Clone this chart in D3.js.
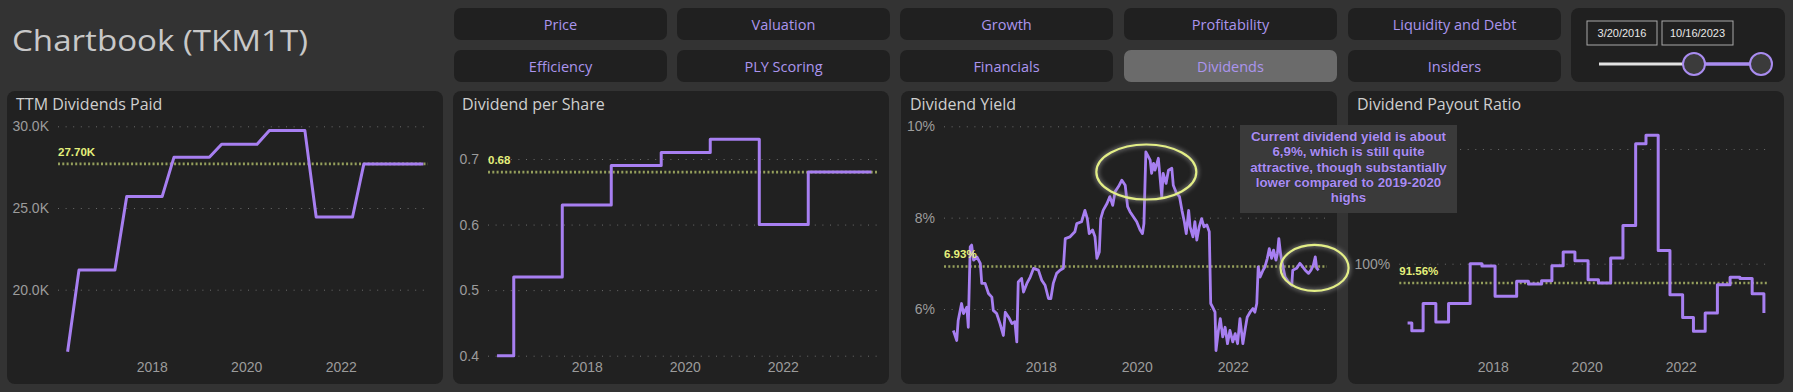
<!DOCTYPE html>
<html>
<head>
<meta charset="utf-8">
<script src="https://cdn.jsdelivr.net/npm/d3@7"></script>
<style>
  html, body { margin: 0; padding: 0; background: #333333; }
  svg { display: block; }
</style>
</head>
<body>
<svg id="chart" width="1793" height="392"></svg>
<script>
// ---------------- DATA ----------------
const pageTitle = "Chartbook (TKM1T)";
const buttonRow1 = ["Price", "Valuation", "Growth", "Profitability", "Liquidity and Debt"];
const buttonRow2 = ["Efficiency", "PLY Scoring", "Financials", "Dividends", "Insiders"];
const activeButton = "Dividends";
const dateRange = ["3/20/2016", "10/16/2023"];
const xTickYears = [2018, 2020, 2022];

const panelTitles = ["TTM Dividends Paid", "Dividend per Share", "Dividend Yield", "Dividend Payout Ratio"];

// TTM dividends paid (thousands)
const ttmYears  = [2016.22, 2016.46, 2017.22, 2017.47, 2018.22, 2018.47, 2019.22, 2019.48, 2020.23, 2020.49, 2021.24, 2021.48, 2022.25, 2022.49, 2023.75];
const ttmValues = [16.2, 21.2, 21.2, 25.7, 25.7, 28.1, 28.1, 28.9, 28.9, 29.75, 29.75, 24.45, 24.45, 27.7, 27.7];
const ttmAvg = 27.70;
const ttmTicks = [20, 25, 30];

// Dividend per share
const dpsYears  = [2016.17, 2016.51, 2017.50, 2018.50, 2019.52, 2020.52, 2021.52, 2022.52, 2023.81];
const dpsValues = [0.40, 0.52, 0.63, 0.69, 0.71, 0.73, 0.60, 0.68, 0.68];
const dpsAvg = 0.68;
const dpsTicks = [0.4, 0.5, 0.6, 0.7];

// Dividend yield (%)
const yieldYears = [2016.18,2016.25,2016.28,2016.35,2016.39,2016.46,2016.49,2016.53,2016.56,2016.60,
  2016.67,2016.74,2016.77,2016.84,2016.91,2016.98,2017.01,2017.08,2017.15,2017.22,
  2017.26,2017.33,2017.40,2017.46,2017.50,2017.53,2017.60,2017.64,2017.71,2017.78,
  2017.85,2017.95,2018.02,2018.09,2018.16,2018.21,2018.26,2018.33,2018.40,2018.47,
  2018.51,2018.61,2018.71,2018.75,2018.85,2018.92,2018.97,2019.01,2019.08,2019.13,
  2019.17,2019.22,2019.25,2019.30,2019.38,2019.44,2019.50,2019.55,2019.62,2019.69,
  2019.76,2019.81,2019.86,2019.93,2020.00,2020.07,2020.12,2020.15,2020.19,2020.28,
  2020.31,2020.35,2020.38,2020.45,2020.49,2020.52,2020.55,2020.61,2020.66,2020.73,
  2020.76,2020.83,2020.89,2020.94,2020.99,2021.03,2021.08,2021.11,2021.17,2021.21,
  2021.25,2021.30,2021.35,2021.40,2021.46,2021.51,2021.54,2021.58,2021.63,2021.65,
  2021.70,2021.74,2021.79,2021.84,2021.89,2021.94,2022.00,2022.05,2022.10,2022.15,
  2022.21,2022.26,2022.30,2022.36,2022.42,2022.46,2022.50,2022.53,2022.57,2022.63,
  2022.67,2022.72,2022.76,2022.81,2022.85,2022.90,2022.93,2022.96,2023.00,2023.04,
  2023.09,2023.16,2023.23,2023.25,2023.33,2023.40,2023.46,2023.51,2023.58,2023.63,
  2023.68,2023.72,2023.75,2023.79];
const yieldValues = [5.53,5.31,5.75,6.12,5.90,6.04,5.60,7.36,7.40,7.07,
  7.14,7.00,6.56,6.56,6.34,6.26,5.97,5.90,5.68,5.42,
  5.93,5.82,5.68,5.72,5.28,6.59,6.67,6.37,6.56,6.70,
  6.89,6.85,6.63,6.52,6.23,6.23,6.56,6.78,6.85,6.89,
  7.54,7.58,7.69,7.87,7.91,8.16,7.98,7.65,7.73,7.58,
  7.11,7.25,7.98,8.16,8.31,8.46,8.27,8.57,8.68,8.82,
  8.71,8.24,8.13,8.02,7.91,7.73,7.65,7.87,9.44,9.26,
  8.97,9.19,9.04,9.30,8.82,8.46,8.97,8.75,9.04,9.08,
  8.71,8.53,8.46,8.16,7.91,7.65,8.16,7.80,7.58,7.91,
  7.51,7.80,7.98,7.80,7.84,7.69,6.12,6.04,5.93,5.09,
  5.53,5.79,5.39,5.60,5.24,5.53,5.28,5.46,5.24,5.79,
  5.24,5.57,5.82,5.93,6.01,5.93,6.12,6.92,6.70,6.85,
  6.92,7.11,7.32,7.11,7.29,7.07,7.21,7.54,7.18,6.96,
  6.70,6.59,6.52,6.85,6.89,7.00,6.92,6.85,6.78,6.85,
  6.96,7.14,6.89,6.85];
const yieldAvg = 6.93;
const yieldTicks = [6, 8, 10];

// Dividend payout ratio (%)
const payoutYears  = [2016.19,2016.28,2016.52,2016.79,2017.06,2017.52,2017.77,2018.05,2018.51,2018.76,
  2019.04,2019.26,2019.50,2019.75,2020.03,2020.25,2020.51,2020.77,2021.04,2021.26,
  2021.52,2021.77,2022.04,2022.27,2022.52,2022.78,2023.05,2023.26,2023.52,2023.77];
const payoutValues = [74.1,70.8,82.6,74.6,82.6,100.0,99.0,85.8,92.3,91.1,
  92.6,99.1,105.1,101.3,93.0,91.6,102.5,116.6,152.3,156.0,
  105.7,86.5,76.6,70.5,78.5,90.8,94.1,93.5,86.9,78.5];
const payoutAvg = 91.56;
const payoutTicks = [100, 150];
const payoutTickLabels = ["100%", ""];   // upper label is hidden behind the annotation box

// Annotation (dividend yield)
const annotationLines = ["Current dividend yield is about", "6,9%, which is still quite",
  "attractive, though substantially", "lower compared to 2019-2020", "highs"];
const highlightYears  = [2020.20, 2023.705];
const highlightValues = [9.0, 6.9];

// ---------------- HELPERS ----------------
const parseDate = d3.utcParse("%m/%d/%Y");
function yearToDate(y) {
  const yr = Math.floor(y);
  const a = Date.UTC(yr, 0, 1), b = Date.UTC(yr + 1, 0, 1);
  return new Date(a + (y - yr) * (b - a));
}

const COL = {
  bg: "#333333", panel: "#212121", btn: "#202020", btnActive: "#6b6b6b",
  purple: "#a77ff1", btnText: "#ab95ee", grid: "#6c6c6c", tick: "#9c9c9c",
  title: "#cfcfcf", avgLine: "#959f5c", avgText: "#e5f07c", ellipse: "#e3ee86"
};
const FONT_UI = "'Segoe UI','Open Sans','Noto Sans',sans-serif";
const FONT_NUM = "'Liberation Sans',Arial,sans-serif";

const svg = d3.select("#chart");
svg.append("rect").attr("width", 1793).attr("height", 392).attr("fill", COL.bg);

const defs = svg.append("defs");
defs.append("filter").attr("id", "glow").attr("x", "-20%").attr("y", "-30%").attr("width", "140%").attr("height", "160%")
  .append("feGaussianBlur").attr("stdDeviation", 2.2);

// ---------------- HEADER ----------------
svg.append("text").attr("x", 12).attr("y", 51)
  .attr("font-family", FONT_UI).attr("font-size", 30).attr("fill", "#c8c8c8")
  .attr("textLength", 296).attr("lengthAdjust", "spacingAndGlyphs")
  .text(pageTitle);

const btnX = [454, 677, 900, 1124, 1348], btnW = 213, btnH = 32, rowY = [8, 50];
const btnData = [];
[buttonRow1, buttonRow2].forEach((row, ri) => row.forEach((lab, i) => btnData.push({ lab, x: btnX[i], y: rowY[ri] })));
const btns = svg.append("g").selectAll("g").data(btnData).join("g");
btns.append("rect").attr("x", d => d.x).attr("y", d => d.y).attr("width", btnW).attr("height", btnH).attr("rx", 7)
  .attr("fill", d => d.lab === activeButton ? COL.btnActive : COL.btn);
btns.append("text").attr("x", d => d.x + btnW / 2).attr("y", d => d.y + 21.5).attr("text-anchor", "middle")
  .attr("font-family", FONT_UI).attr("font-size", 14.5).attr("fill", COL.btnText).text(d => d.lab);

// slider
const sl = svg.append("g");
sl.append("rect").attr("x", 1571).attr("y", 8).attr("width", 214).attr("height", 74).attr("rx", 8).attr("fill", COL.btn);
const dateBoxes = [{ x: 1587, w: 70 }, { x: 1662, w: 71 }];
dateBoxes.forEach((b, i) => {
  sl.append("rect").attr("x", b.x).attr("y", 21).attr("width", b.w).attr("height", 24)
    .attr("fill", "none").attr("stroke", "#a8a8a8").attr("stroke-width", 1);
  sl.append("text").attr("x", b.x + b.w / 2).attr("y", 37).attr("text-anchor", "middle")
    .attr("font-family", FONT_NUM).attr("font-size", 11).attr("fill", "#e8e8e8").text(dateRange[i]);
});
sl.append("line").attr("x1", 1599).attr("x2", 1694).attr("y1", 64).attr("y2", 64).attr("stroke", "#e2e2e2").attr("stroke-width", 3);
sl.append("line").attr("x1", 1694).attr("x2", 1761).attr("y1", 64).attr("y2", 64).attr("stroke", "#a98cf0").attr("stroke-width", 3.5);
[1694, 1761].forEach(cx => sl.append("circle").attr("cx", cx).attr("cy", 64).attr("r", 11)
  .attr("fill", "#3b3b3b").attr("stroke", "#a98cf0").attr("stroke-width", 2));

// ---------------- PANELS ----------------
const xDomain = dateRange.map(parseDate);
const tickDates = xTickYears.map(y => new Date(Date.UTC(y, 0, 1)));

const panels = [
  { x: 7,    gridL: 51,   gridR: 421, plotL: 60.4, plotR: 418.2, yDom: [20, 30],   yRng: [289.7, 126.3],
    years: ttmYears, values: ttmValues, avg: ttmAvg, ticks: ttmTicks,
    tfmt: d => d3.format(".1f")(d) + "K", afmt: d => d3.format(".2f")(d) + "K", curve: d3.curveLinear, sw: 3 },
  { x: 453,  gridL: 35,   gridR: 424, plotL: 46.3, plotR: 417.4, yDom: [0.4, 0.7], yRng: [355.7, 159],
    years: dpsYears, values: dpsValues, avg: dpsAvg, ticks: dpsTicks,
    tfmt: d3.format(".1f"), afmt: d3.format(".2f"), curve: d3.curveStepAfter, sw: 3 },
  { x: 901,  gridL: 43,   gridR: 426, plotL: 54.1, plotR: 417.6, yDom: [6, 10],    yRng: [309, 126.3],
    years: yieldYears, values: yieldValues, avg: yieldAvg, ticks: yieldTicks,
    tfmt: d => d + "%", afmt: d => d3.format(".2f")(d) + "%", curve: d3.curveLinear, sw: 2.8 },
  { x: 1348, gridL: 51.3, gridR: 420, plotL: 60.8, plotR: 416.8, yDom: [100, 150], yRng: [263.7, 149],
    years: payoutYears, values: payoutValues, avg: payoutAvg, ticks: payoutTicks,
    tfmt: (d, k) => payoutTickLabels[k], afmt: d => d3.format(".2f")(d) + "%", curve: d3.curveStepAfter, sw: 3 }
];

const scales = [];
panels.forEach((p, i) => {
  const g = svg.append("g");
  g.append("rect").attr("x", p.x).attr("y", 91).attr("width", 436).attr("height", 293).attr("rx", 8).attr("fill", COL.panel);
  g.append("text").attr("x", p.x + 9).attr("y", 110).attr("font-family", FONT_UI).attr("font-size", 16)
    .attr("fill", COL.title).text(panelTitles[i]);

  const xs = d3.scaleUtc().domain(xDomain).range([p.x + p.plotL, p.x + p.plotR]);
  const ys = d3.scaleLinear().domain(p.yDom).range(p.yRng);
  scales.push({ xs, ys });

  // y axis with grid
  const yAx = g.append("g").attr("transform", `translate(${p.x + p.gridL},0)`)
    .call(d3.axisLeft(ys).tickValues(p.ticks).tickFormat(p.tfmt).tickSize(-(p.gridR - p.gridL)).tickPadding(9));
  yAx.select(".domain").remove();
  yAx.selectAll(".tick line").attr("stroke", COL.grid).attr("stroke-width", 1).attr("stroke-dasharray", "1 6.6");
  yAx.selectAll(".tick text").attr("fill", COL.tick).attr("font-family", FONT_NUM).attr("font-size", 14);

  // x axis
  const xAx = g.append("g").attr("transform", "translate(0,372)")
    .call(d3.axisBottom(xs).tickValues(tickDates).tickFormat(d3.utcFormat("%Y")).tickSize(0).tickPadding(0));
  xAx.select(".domain").remove();
  xAx.selectAll(".tick text").attr("y", 0).attr("dy", 0).attr("fill", COL.tick)
    .attr("font-family", FONT_NUM).attr("font-size", 14);

  // average line
  g.append("line").attr("x1", p.x + p.gridL).attr("x2", p.x + p.gridR).attr("y1", ys(p.avg)).attr("y2", ys(p.avg))
    .attr("stroke", COL.avgLine).attr("stroke-width", 2.6).attr("stroke-dasharray", "2 2.3");

  // series line
  const data = p.years.map((y, k) => ({ d: yearToDate(y), v: p.values[k] }));
  g.append("path").datum(data)
    .attr("d", d3.line().x(d => xs(d.d)).y(d => ys(d.v)).curve(p.curve))
    .attr("fill", "none").attr("stroke", COL.purple).attr("stroke-width", p.sw)
    .attr("stroke-linejoin", "round");

  // avg label
  g.append("text").attr("x", p.x + p.gridL).attr("y", ys(p.avg) - 8.3)
    .attr("font-family", FONT_NUM).attr("font-size", 11.5).attr("font-weight", "bold")
    .attr("fill", COL.avgText).text(p.afmt(p.avg));
});

// highlight ellipses on dividend yield
const ys3 = scales[2];
const ellSize = [[50, 27.5], [34, 23]];
const eg = svg.append("g");
highlightYears.forEach((yr, k) => {
  const cx = ys3.xs(yearToDate(yr)), cy = ys3.ys(highlightValues[k]);
  eg.append("ellipse").attr("cx", cx).attr("cy", cy).attr("rx", ellSize[k][0]).attr("ry", ellSize[k][1])
    .attr("fill", "none").attr("stroke", "#9a9a9a").attr("stroke-width", 5).attr("opacity", 0.55).attr("filter", "url(#glow)");
  eg.append("ellipse").attr("cx", cx).attr("cy", cy).attr("rx", ellSize[k][0]).attr("ry", ellSize[k][1])
    .attr("fill", "none").attr("stroke", COL.ellipse).attr("stroke-width", 2.2);
});

// annotation box
const ab = svg.append("g");
ab.append("rect").attr("x", 1240).attr("y", 125).attr("width", 217).attr("height", 88).attr("fill", "#3a3a3a");
ab.selectAll("text").data(annotationLines).join("text")
  .attr("x", 1348.5).attr("y", (d, i) => 140.7 + i * 15.4).attr("text-anchor", "middle")
  .attr("font-family", FONT_NUM).attr("font-size", 13.3).attr("font-weight", "bold")
  .attr("fill", "#a98cf3").attr("stroke", "rgba(20,20,20,0.45)").attr("stroke-width", 0.8)
  .attr("paint-order", "stroke")
  .text(d => d);
</script>
</body>
</html>
